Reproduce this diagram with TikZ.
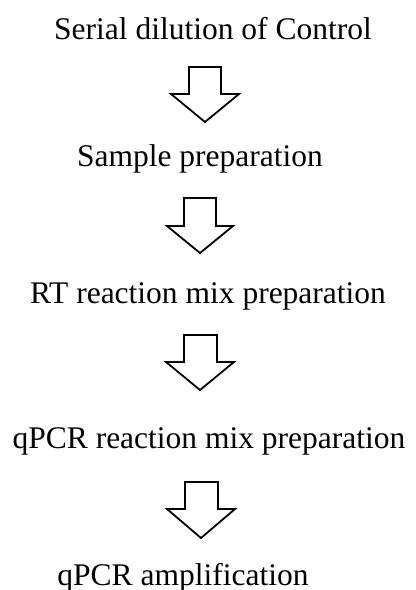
\documentclass[tikz,border=0pt]{standalone}
\usepackage{fontspec}
\setmainfont{Liberation Serif}

\tikzset{
	steptext/.style={anchor=base,inner sep=0pt,font=\fontsize{31.5bp}{36bp}\selectfont},
	hollowarrow/.style={draw=black,fill=white,line width=1.8bp,line join=miter}
}

\begin{document}
\begin{tikzpicture}[x=1bp,y=-1bp]
	\useasboundingbox (0,0) rectangle (415,590);
	\node[steptext] (dilution) at (213,40) {Serial dilution of Control};
	\node[steptext] (sample) at (200,167) {Sample preparation};
	\node[steptext] (rtmix) at (208,303) {RT reaction mix preparation};
	\node[steptext] (qpcrmix) at (209,448) {qPCR reaction mix preparation};
	\node[steptext] (amplification) at (183,585) {qPCR amplification};
	\coordinate (arrowA) at (189,67);
	\coordinate (arrowB) at (184,198);
	\coordinate (arrowC) at (184,335);
	\coordinate (arrowD) at (185,482);
	\draw[hollowarrow]
		(arrowA) -- ++(32,0) -- ++(0,27) -- ++(18,0) -- ++(-34,28) -- ++(-34,-28) -- ++(18,0) -- cycle
		(arrowB) -- ++(32,0) -- ++(0,28) -- ++(17,0) -- ++(-33,27) -- ++(-33,-27) -- ++(17,0) -- cycle
		(arrowC) -- ++(33,0) -- ++(0,27) -- ++(17,0) -- ++(-34,28) -- ++(-34,-28) -- ++(18,0) -- cycle
		(arrowD) -- ++(33,0) -- ++(0,27) -- ++(17,0) -- ++(-34,29) -- ++(-34,-29) -- ++(18,0) -- cycle
		;
\end{tikzpicture}
\end{document}
